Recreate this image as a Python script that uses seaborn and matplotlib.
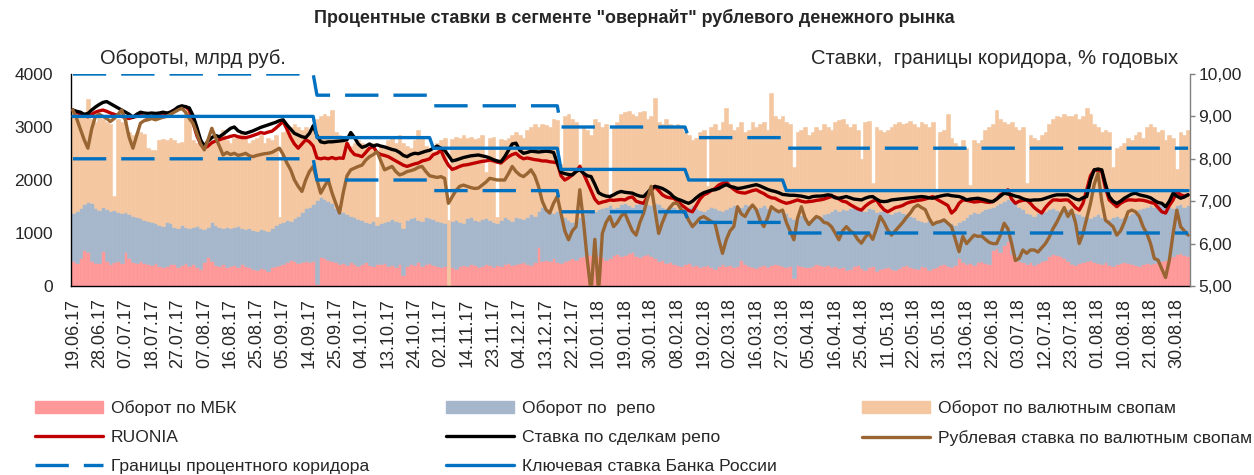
import numpy as np
import pandas as pd
import matplotlib
matplotlib.use('Agg')
import matplotlib.pyplot as plt
import seaborn as sns
from matplotlib.patches import Patch
from matplotlib.lines import Line2D
from matplotlib.ticker import FuncFormatter

# Подписи оси X: каждый 7-й день ряда
date_labels = ['19.06.17', '28.06.17', '07.07.17', '18.07.17', '27.07.17', '07.08.17',
               '16.08.17', '25.08.17', '05.09.17', '14.09.17', '25.09.17', '04.10.17',
               '13.10.17', '24.10.17', '02.11.17', '14.11.17', '23.11.17', '04.12.17',
               '13.12.17', '22.12.17', '10.01.18', '19.01.18', '30.01.18', '08.02.18',
               '19.02.18', '02.03.18', '16.03.18', '27.03.18', '05.04.18', '16.04.18',
               '25.04.18', '11.05.18', '22.05.18', '31.05.18', '13.06.18', '22.06.18',
               '03.07.18', '12.07.18', '23.07.18', '01.08.18', '10.08.18', '21.08.18',
               '30.08.18']

# Обороты, млрд руб. (по дням, одна строка = 7 дней)
mbk = [
    480, 430, 520, 680, 650, 470, 440,
    430, 660, 480, 420, 450, 470, 430,
    640, 520, 460, 430, 470, 440, 420,
    400, 430, 380, 350, 380, 420, 410,
    360, 400, 430, 380, 420, 360, 330,
    450, 540, 470, 400, 380, 420, 360,
    380, 400, 360, 420, 380, 350, 330,
    300, 340, 320, 290, 360, 380, 400,
    420, 460, 500, 480, 440, 460, 470,
    450, 480, 30, 540, 520, 500, 480,
    460, 420, 440, 400, 450, 420, 380,
    420, 460, 400, 380, 420, 410, 440,
    380, 400, 360, 420, 200, 380, 410,
    400, 450, 380, 420, 440, 400, 380,
    360, 380, 0, 350, 320, 380, 400,
    380, 420, 400, 360, 380, 420, 400,
    360, 400, 380, 420, 440, 400, 420,
    430, 460, 420, 400, 460, 740, 480,
    500, 480, 520, 460, 440, 480, 500,
    520, 500, 540, 560, 600, 580, 620,
    560, 540, 500, 520, 580, 600, 560,
    580, 620, 640, 560, 540, 580, 600,
    560, 520, 480, 500, 440, 460, 420,
    400, 380, 420, 440, 380, 400, 350,
    380, 400, 360, 330, 370, 420, 380,
    400, 360, 380, 500, 420, 380, 360,
    340, 380, 400, 360, 390, 420, 400,
    380, 360, 380, 150, 400, 380, 350,
    360, 380, 420, 400, 370, 390, 360,
    380, 340, 360, 300, 320, 380, 400,
    340, 300, 360, 380, 280, 320, 340,
    360, 320, 300, 340, 380, 400, 360,
    340, 320, 380, 360, 300, 340, 360,
    400, 420, 380, 360, 400, 520, 460,
    420, 440, 400, 460, 480, 440, 420,
    680, 720, 640, 780, 850, 600, 560,
    480, 450, 420, 460, 400, 440, 480,
    500, 560, 600, 580, 560, 520, 480,
    420, 400, 440, 460, 480, 500, 460,
    440, 420, 460, 400, 380, 420, 440,
    460, 440, 420, 400, 380, 420, 440,
    420, 440, 460, 480, 500, 520, 560,
    600, 620, 580, 560,
]

repo = [
    900, 990, 950, 870, 940, 1100, 1040,
    1010, 840, 980, 1000, 990, 930, 950,
    760, 840, 870, 870, 810, 810, 800,
    800, 750, 770, 790, 820, 760, 710,
    740, 750, 690, 710, 690, 780, 770,
    630, 580, 730, 750, 730, 670, 760,
    720, 720, 780, 680, 700, 750, 730,
    740, 740, 740, 750, 740, 770, 780,
    780, 790, 730, 800, 880, 940, 1010,
    1050, 1070, 1590, 1140, 1130, 1100, 1080,
    1020, 1000, 960, 960, 870, 880, 880,
    830, 740, 780, 840, 730, 770, 760,
    850, 860, 860, 780, 900, 870, 870,
    900, 800, 840, 880, 840, 860, 840,
    840, 800, 0, 870, 930, 820, 780,
    900, 880, 840, 860, 880, 860, 840,
    840, 780, 870, 880, 820, 820, 880,
    850, 800, 880, 950, 860, 680, 1020,
    950, 920, 860, 960, 910, 820, 750,
    680, 750, 760, 790, 780, 820, 800,
    890, 940, 1000, 1000, 900, 900, 980,
    980, 900, 860, 980, 1020, 1000, 940,
    960, 1040, 1060, 1000, 1040, 1060, 1080,
    1060, 1060, 1060, 1060, 1140, 1080, 1090,
    1040, 1060, 1140, 1150, 1070, 1000, 1080,
    1100, 1160, 1100, 1000, 1120, 1140, 1120,
    1120, 1120, 1120, 1120, 1050, 1040, 1020,
    1020, 1020, 920, 1110, 900, 960, 930,
    890, 900, 900, 900, 980, 990, 1060,
    1070, 1080, 1100, 1130, 1160, 1120, 1060,
    1100, 1120, 1120, 1080, 1120, 1100, 1100,
    1020, 1030, 1100, 1080, 1000, 960, 960,
    960, 930, 840, 840, 940, 840, 840,
    850, 800, 820, 820, 750, 680, 790,
    880, 910, 1000, 920, 940, 1010, 1060,
    820, 800, 920, 820, 790, 1000, 1000,
    1020, 1000, 960, 890, 920, 940, 920,
    920, 890, 880, 860, 840, 900, 980,
    980, 980, 910, 860, 820, 780, 860,
    910, 880, 820, 860, 920, 900, 840,
    840, 900, 960, 1020, 1070, 1060, 1060,
    1100, 1060, 1080, 1080, 1020, 980, 920,
    920, 920, 920, 960,
]

swaps = [
    1940, 1880, 1730, 1700, 1940, 1580, 1620,
    1760, 1650, 1640, 1630, 250, 1750, 1720,
    1780, 1540, 1520, 1580, 1620, 1620, 1380,
    1370, 1380, 1600, 1640, 1560, 1620, 1630,
    1600, 1570, 2200, 2210, 1640, 1560, 1660,
    1620, 1530, 1560, 1550, 1690, 1860, 1630,
    1600, 1680, 1710, 1800, 1720, 1600, 1690,
    1760, 1770, 1640, 1760, 1650, 1700, 120,
    1700, 1700, 1770, 1770, 1680, 1550, 1520,
    1400, 1400, 1530, 1520, 1600, 1600, 1760,
    1420, 1430, 1400, 1340, 1330, 1400, 1490,
    1450, 1450, 1420, 1480, 150, 1470, 1400,
    1520, 1540, 1480, 1650, 1600, 1400, 1320,
    1450, 1700, 1580, 1350, 1320, 1290, 1480,
    1550, 1620, 1250, 1560, 1570, 1600, 1670,
    1520, 1520, 1540, 1580, 1590, 870, 1560,
    1620, 120, 1530, 1450, 1540, 1630, 1600,
    1570, 1540, 1650, 1650, 1730, 1580, 1550,
    1590, 1600, 1770, 1710, 950, 1900, 2000,
    1950, 1850, 1000, 1650, 1570, 1450, 1730,
    1650, 1520, 1550, 180, 1520, 1600, 1710,
    1720, 1780, 1750, 1660, 1720, 1720, 1610,
    1680, 1990, 1560, 1550, 1670, 1530, 1500,
    1590, 1560, 1420, 1350, 1230, 1320, 1460,
    1530, 420, 1500, 1570, 1510, 1680, 1890,
    1550, 1430, 1520, 1600, 1360, 1430, 1620,
    1540, 1550, 1580, 1470, 2200, 1740, 1730,
    1800, 1720, 1750, 990, 1600, 1610, 1720,
    1600, 1620, 1680, 1650, 1700, 1620, 1530,
    1650, 1710, 1690, 1620, 1520, 1550, 1490,
    960, 1680, 1640, 490, 1600, 1530, 1460,
    1570, 1650, 1650, 1680, 1670, 1720, 1800,
    1750, 1750, 1880, 1850, 1760, 1920, 600,
    1650, 1730, 2050, 1620, 1550, 1450, 1500,
    1300, 550, 1350, 1320, 1330, 1500, 1520,
    1550, 1800, 1590, 1500, 1410, 1500, 1440,
    1450, 1550, 570, 1500, 1480, 1370, 1450,
    1480, 1600, 1670, 1760, 1780, 1830, 1740,
    1800, 1870, 1800, 1880, 2050, 1970, 1730,
    1650, 1600, 1670, 1640, 950, 1280, 1370,
    1400, 1460, 1370, 1430, 1450, 1320, 1500,
    1530, 1500, 1360, 1390, 1230, 1350, 1320,
    680, 1360, 1350, 1430,
]

# Ставки, % годовых
ruonia = [
    9.15, 9.10, 9.05, 9.02, 8.99, 9.05, 9.10,
    9.13, 9.15, 9.12, 9.08, 9.05, 9.02, 9.00,
    8.97, 8.95, 8.98, 9.00, 9.02, 9.00, 8.98,
    9.00, 9.02, 9.03, 9.02, 9.05, 9.10, 9.15,
    9.20, 9.22, 9.23, 9.15, 8.85, 8.55, 8.35,
    8.25, 8.30, 8.38, 8.42, 8.45, 8.48, 8.50,
    8.53, 8.55, 8.52, 8.50, 8.50, 8.52, 8.55,
    8.58, 8.62, 8.60, 8.63, 8.65, 8.72, 8.80,
    8.88, 8.70, 8.50, 8.35, 8.25, 8.35, 8.45,
    8.40, 8.30, 8.02, 8.00, 8.02, 8.00, 8.03,
    8.00, 8.02, 8.01, 8.37, 8.20, 8.10, 8.08,
    8.05, 8.15, 8.25, 8.29, 8.15, 8.10, 8.08,
    8.05, 8.00, 7.95, 7.90, 7.85, 7.82, 7.85,
    7.88, 7.90, 7.95, 7.97, 8.00, 8.10, 8.13,
    8.20, 8.00, 7.85, 7.75, 7.78, 7.82, 7.85,
    7.86, 7.88, 7.90, 7.92, 7.94, 7.95, 7.97,
    7.95, 7.92, 7.90, 7.98, 8.05, 8.10, 8.13,
    8.05, 8.00, 8.02, 8.00, 7.98, 7.97, 7.95,
    7.95, 7.93, 7.92, 7.90, 7.60, 7.50, 7.55,
    7.62, 7.70, 7.82, 7.65, 7.45, 7.25, 7.05,
    6.95, 6.98, 7.00, 7.03, 7.02, 7.03, 7.04,
    7.03, 7.08, 7.10, 7.00, 6.97, 6.95, 7.10,
    7.25, 7.35, 7.25, 7.15, 7.10, 7.08, 7.07,
    7.00, 6.92, 6.85, 6.78, 6.75, 6.90, 7.05,
    7.15, 7.19, 7.25, 7.30, 7.38, 7.42, 7.46,
    7.35, 7.28, 7.22, 7.20, 7.19, 7.22, 7.25,
    7.27, 7.22, 7.18, 7.12, 7.08, 7.07, 7.02,
    6.98, 6.95, 6.97, 7.00, 7.03, 7.00, 6.98,
    6.99, 7.00, 7.02, 7.03, 7.05, 7.08, 7.11,
    7.10, 7.05, 7.00, 6.98, 6.92, 6.87, 6.82,
    6.79, 6.88, 6.95, 7.00, 7.03, 6.90, 6.80,
    6.75, 6.80, 6.85, 6.87, 6.90, 6.95, 6.98,
    7.00, 7.02, 7.03, 7.05, 7.08, 7.11, 7.05,
    7.00, 6.95, 6.90, 6.72, 6.80, 6.95, 7.03,
    7.02, 7.00, 6.98, 6.99, 7.00, 6.98, 6.97,
    6.99, 7.05, 7.15, 7.20, 7.27, 7.05, 6.95,
    7.00, 7.02, 7.03, 6.95, 6.85, 6.78, 6.72,
    6.85, 6.95, 7.03, 7.03, 7.02, 7.03, 7.03,
    6.95, 6.85, 6.79, 6.95, 7.27, 7.60, 7.74,
    7.72, 7.70, 7.30, 7.03, 6.95, 6.87, 6.95,
    7.00, 7.03, 7.03, 7.02, 7.03, 7.02, 7.00,
    6.97, 6.95, 6.85, 6.75, 6.72, 6.90, 7.03,
    7.23, 7.15, 7.12, 7.15,
]

repo_rate = [
    9.15, 9.12, 9.10, 9.05, 9.07, 9.15, 9.22,
    9.28, 9.33, 9.35, 9.30, 9.25, 9.20, 9.15,
    9.10, 9.05, 8.98, 9.05, 9.10, 9.08, 9.07,
    9.08, 9.07, 9.08, 9.10, 9.08, 9.10, 9.15,
    9.22, 9.25, 9.23, 9.20, 9.02, 8.75, 8.45,
    8.30, 8.42, 8.50, 8.55, 8.52, 8.58, 8.65,
    8.72, 8.75, 8.66, 8.62, 8.60, 8.63, 8.66,
    8.70, 8.74, 8.77, 8.80, 8.83, 8.86, 8.90,
    8.92, 8.80, 8.70, 8.60, 8.56, 8.52, 8.50,
    8.60, 8.78, 8.55, 8.40, 8.38, 8.40, 8.40,
    8.41, 8.42, 8.43, 8.45, 8.62, 8.50, 8.35,
    8.27, 8.30, 8.35, 8.30, 8.33, 8.30, 8.28,
    8.25, 8.22, 8.20, 8.15, 8.08, 8.05, 8.10,
    8.13, 8.12, 8.15, 8.18, 8.20, 8.25, 8.30,
    8.25, 8.20, 8.08, 7.95, 7.97, 8.00, 8.03,
    8.05, 8.07, 8.08, 8.09, 8.07, 8.05, 8.02,
    7.98, 7.95, 7.93, 8.05, 8.20, 8.35, 8.37,
    8.20, 8.13, 8.15, 8.18, 8.17, 8.16, 8.17,
    8.18, 8.17, 8.15, 7.90, 7.68, 7.65, 7.63,
    7.62, 7.70, 7.74, 7.66, 7.60, 7.58, 7.40,
    7.20, 7.15, 7.12, 7.11, 7.15, 7.20, 7.23,
    7.21, 7.20, 7.19, 7.15, 7.12, 7.11, 7.20,
    7.30, 7.35, 7.33, 7.30, 7.25, 7.19, 7.10,
    7.05, 7.02, 6.98, 6.95, 7.00, 7.08, 7.15,
    7.20, 7.23, 7.26, 7.27, 7.30, 7.35, 7.39,
    7.35, 7.33, 7.30, 7.31, 7.33, 7.35, 7.37,
    7.39, 7.36, 7.32, 7.28, 7.25, 7.23, 7.20,
    7.16, 7.15, 7.14, 7.14, 7.13, 7.12, 7.10,
    7.08, 7.11, 7.12, 7.12, 7.13, 7.15, 7.14,
    7.08, 7.07, 7.09, 7.11, 7.08, 7.05, 7.04,
    7.03, 7.07, 7.10, 7.11, 7.05, 7.00, 6.99,
    7.00, 7.03, 7.04, 7.05, 7.06, 7.07, 7.08,
    7.09, 7.10, 7.11, 7.10, 7.08, 7.07, 7.10,
    7.12, 7.14, 7.15, 7.13, 7.12, 7.11, 7.08,
    7.03, 7.05, 7.06, 7.07, 7.05, 7.03, 7.00,
    6.99, 7.05, 7.12, 7.19, 7.17, 7.15, 7.12,
    7.10, 7.06, 7.03, 7.02, 7.03, 7.03, 7.04,
    7.07, 7.10, 7.13, 7.15, 7.15, 7.15, 7.15,
    7.10, 7.05, 7.03, 7.08, 7.11, 7.50, 7.74,
    7.76, 7.74, 7.40, 7.11, 7.00, 6.95, 7.00,
    7.07, 7.12, 7.17, 7.19, 7.15, 7.13, 7.11,
    7.08, 7.02, 6.97, 6.95, 6.87, 7.00, 7.19,
    7.12, 7.07, 7.10, 7.15,
]

swap_rate = [
    9.15, 8.95, 8.70, 8.45, 8.25, 8.70, 9.00,
    9.05, 9.00, 8.95, 8.88, 8.95, 9.05, 9.15,
    8.90, 8.50, 8.25, 8.55, 8.84, 8.90, 8.92,
    8.95, 8.92, 8.95, 8.98, 9.00, 9.05, 9.10,
    9.15, 9.19, 9.10, 8.95, 8.84, 8.60, 8.35,
    8.21, 8.45, 8.72, 8.50, 8.30, 8.09, 8.15,
    8.10, 8.13, 8.08, 8.10, 8.13, 8.07, 8.05,
    8.08, 8.10, 8.12, 8.13, 8.15, 8.20, 8.25,
    8.10, 7.90, 7.74, 7.50, 7.35, 7.23, 7.50,
    7.70, 7.82, 7.50, 7.19, 7.35, 7.50, 7.20,
    6.95, 6.72, 7.20, 7.60, 7.74, 7.78, 7.82,
    7.85, 7.97, 8.05, 8.10, 8.17, 7.95, 7.74,
    7.78, 7.82, 7.70, 7.62, 7.65, 7.70, 7.72,
    7.75, 7.80, 7.82, 7.70, 7.60, 7.58, 7.56,
    7.58, 7.54, 6.95, 7.10, 7.25, 7.35, 7.38,
    7.35, 7.32, 7.30, 7.31, 7.38, 7.45, 7.54,
    7.52, 7.50, 7.50, 7.50, 7.65, 7.82, 7.70,
    7.62, 7.58, 7.65, 7.74, 7.60, 7.35, 7.00,
    6.80, 6.72, 6.95, 7.11, 6.70, 6.30, 6.09,
    6.30, 6.40, 7.27, 6.50, 5.61, 4.85, 6.10,
    4.85, 6.24, 6.50, 6.64, 6.40, 6.50, 6.65,
    6.72, 6.50, 6.30, 6.20, 6.50, 6.72, 7.05,
    7.35, 6.80, 6.24, 6.50, 6.72, 6.85, 6.95,
    6.95, 6.80, 6.72, 6.55, 6.40, 6.50, 6.60,
    6.64, 6.58, 6.52, 6.48, 6.10, 5.77, 6.09,
    6.30, 6.40, 6.87, 6.70, 6.64, 6.80, 6.91,
    6.80, 6.55, 6.40, 6.60, 6.87, 6.80, 6.75,
    6.79, 6.50, 6.30, 6.09, 6.60, 6.87, 6.60,
    6.45, 6.55, 6.64, 6.60, 6.50, 6.48, 6.40,
    6.25, 6.09, 6.30, 6.40, 6.30, 6.24, 6.10,
    6.01, 6.15, 6.24, 6.10, 6.35, 6.64, 6.50,
    6.32, 6.20, 6.30, 6.40, 6.50, 6.62, 6.72,
    6.85, 6.91, 6.85, 6.80, 6.60, 6.45, 6.50,
    6.52, 6.56, 6.48, 6.40, 6.10, 5.81, 6.17,
    6.00, 6.10, 6.20, 6.17, 6.18, 6.10, 6.03,
    6.00, 6.00, 6.20, 6.48, 6.35, 6.00, 5.60,
    5.65, 5.85, 5.77, 5.85, 5.85, 5.80, 5.90,
    6.00, 6.15, 6.35, 6.50, 6.68, 6.85, 6.64,
    6.79, 6.50, 6.00, 6.24, 6.60, 6.95, 7.40,
    7.66, 7.00, 6.55, 6.48, 6.40, 6.20, 6.30,
    6.50, 6.75, 6.79, 6.75, 6.64, 6.40, 6.24,
    6.00, 5.65, 5.61, 5.40, 5.20, 5.61, 6.24,
    6.79, 6.40, 6.30, 6.20,
]

# Ключевая ставка: номер дня ряда, с которого действует значение
key_rate_start = [0, 65, 96, 130, 164, 190]
key_rate_value = [9.00, 8.50, 8.25, 7.75, 7.50, 7.25]
corridor_half_width = 1.00

C_MBK = '#FF9999'
C_REPO = '#A6B6CB'
C_SWAP = '#F4C7A0'
C_RUONIA = '#C00000'
C_REPO_RATE = '#000000'
C_SWAP_RATE = '#996633'
C_KEY = '#0070C0'

sns.set_style('white')
plt.rcParams['font.family'] = ['Liberation Sans', 'DejaVu Sans']

n = len(mbk)
days = np.arange(n)
key_rate = np.repeat(key_rate_value, np.diff(key_rate_start + [n]))

df = pd.DataFrame({'day': days, 'mbk': mbk, 'repo': repo, 'swaps': swaps,
                   'ruonia': ruonia, 'repo_rate': repo_rate, 'swap_rate': swap_rate,
                   'key': key_rate,
                   'upper': key_rate + corridor_half_width,
                   'lower': key_rate - corridor_half_width})

W, H = 1254, 475
fig = plt.figure(figsize=(W / 100, H / 100), dpi=100)
ax = fig.add_axes([71 / W, 1 - 286 / H, (1190 - 71) / W, (286 - 74) / H])

# stacked daily turnover bars
bar_kw = dict(width=1.0, linewidth=0.4)
ax.bar(df['day'], df['mbk'], color=C_MBK, edgecolor=C_MBK, **bar_kw)
ax.bar(df['day'], df['repo'], bottom=df['mbk'], color=C_REPO, edgecolor=C_REPO, **bar_kw)
ax.bar(df['day'], df['swaps'], bottom=df['mbk'] + df['repo'], color=C_SWAP,
       edgecolor=C_SWAP, **bar_kw)

# rates on the right axis
ax2 = ax.twinx()
lw = 2.4
sns.lineplot(data=df, x='day', y='ruonia', ax=ax2, color=C_RUONIA, linewidth=lw, legend=False)
sns.lineplot(data=df, x='day', y='repo_rate', ax=ax2, color=C_REPO_RATE, linewidth=lw, legend=False)
sns.lineplot(data=df, x='day', y='swap_rate', ax=ax2, color=C_SWAP_RATE, linewidth=lw, legend=False)
for col in ['upper', 'lower']:
    sns.lineplot(data=df, x='day', y=col, ax=ax2, color=C_KEY, linewidth=lw, legend=False)
    ax2.get_lines()[-1].set_dashes((10, 4.5))
sns.lineplot(data=df, x='day', y='key', ax=ax2, color=C_KEY, linewidth=lw, legend=False)

ax.set_xlim(-0.5, n - 0.5)
ax.set_ylim(0, 4000)
ax2.set_ylim(5, 10)
ax.set_yticks([0, 1000, 2000, 3000, 4000])
ax2.set_yticks([5, 6, 7, 8, 9, 10])
ax2.yaxis.set_major_formatter(FuncFormatter(lambda v, p: f'{v:.2f}'.replace('.', ',')))
ax.set_xticks(days[::7])
ax.set_xticklabels(date_labels, rotation=90)
ax.set_xlabel('')
ax.set_ylabel('')
ax2.set_ylabel('')

ax.tick_params(axis='x', length=0, pad=9, labelsize=13)
ax.tick_params(axis='y', length=0, pad=13, labelsize=12.5)
ax2.tick_params(axis='y', length=3.5, width=1, color='#808080', pad=2.5, labelsize=12.5)

for s in ['top', 'right']:
    ax.spines[s].set_visible(False)
for s in ['left', 'bottom']:
    ax.spines[s].set_color('black')
    ax.spines[s].set_linewidth(1.0)
for s in ['top', 'left', 'bottom']:
    ax2.spines[s].set_visible(False)
ax2.spines['right'].set_color('#808080')
ax2.spines['right'].set_linewidth(1.0)

fig.text(0.506, 0.962, 'Процентные ставки в сегменте "овернайт" рублевого денежного рынка',
         ha='center', va='center', fontsize=12.9, fontweight='bold')
fig.text(100 / W, 1 - 58 / H, 'Обороты, млрд руб.', ha='left', va='center', fontsize=14.4)
fig.text(1178 / W, 1 - 58 / H, 'Ставки,  границы коридора, % годовых', ha='right',
         va='center', fontsize=14.6)

# legend: three columns
def line_handle(color, dashed=False):
    h = Line2D([], [], color=color, linewidth=lw)
    if dashed:
        h.set_dashes((10, 4.5))
    return h

columns = [
    ([Patch(color=C_MBK), line_handle(C_RUONIA), line_handle(C_KEY, True)],
     ['Оборот по МБК', 'RUONIA', 'Границы процентного коридора'], 35),
    ([Patch(color=C_REPO), line_handle(C_REPO_RATE), line_handle(C_KEY)],
     ['Оборот по  репо', 'Ставка по сделкам репо', 'Ключевая ставка Банка России'], 446),
    ([Patch(color=C_SWAP), line_handle(C_SWAP_RATE)],
     ['Оборот по валютным свопам', 'Рублевая ставка по валютным свопам'], 862),
]
for handles, labels, x0 in columns:
    fig.legend(handles, labels, loc='upper left', bbox_to_anchor=(x0 / W, 1 - 400 / H),
               frameon=False, fontsize=12.6, handlelength=3.9, handleheight=0.7,
               handletextpad=0.45, labelspacing=0.8, borderpad=0, borderaxespad=0)

fig.savefig('out.png', dpi=100)
